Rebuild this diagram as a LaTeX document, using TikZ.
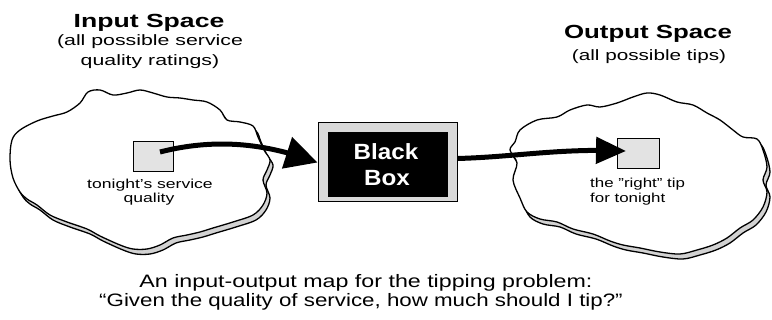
\documentclass[tikz,border=0pt]{standalone}
\usepackage{fontspec}
\setmainfont{Liberation Sans}
\usetikzlibrary{arrows.meta,bending}
\newcommand{\hstr}[2]{\scalebox{#1}[1]{#2}}
\begin{document}
\begin{tikzpicture}[x=1pt,y=-1pt,
  cloudline/.style={line width=1.3pt, line join=round},
  cloudband/.style={cloudline, fill=gray!35},
  cloudbody/.style={cloudline, fill=white},
  lbl/.style={inner sep=0pt, anchor=base},
  lblw/.style={inner sep=0pt, anchor=base west},
  titlefont/.style={font=\fontsize{19}{19}\selectfont\bfseries},
  subfont/.style={font=\fontsize{15}{15}\selectfont},
  smallfont/.style={font=\fontsize{13}{13}\selectfont},
  capfont/.style={font=\fontsize{18}{18}\selectfont},
  samplebox/.style={draw, line width=0.9pt, fill=gray!22, inner sep=0pt},
  flowarrow/.style={line width=5pt, -{Triangle[length=32pt,width=32pt]}},
  flowarrowb/.style={line width=5pt, -{Triangle[length=30pt,width=26pt]}},
]
\useasboundingbox[fill=white] (0,0) rectangle (772,320);

% ---- left cloud (input space)
\def\leftcloud{(12,140) (20,130) (37,121) (53,116) (67,112) (80,103) (88,92) (100,90) (113,95) (127,93) (140,90) (153,93) (167,97) (180,98) (193,100) (207,102) (220,110) (227,120) (240,122) (253,126) (258,137) (264,150) (270,160) (267,170) (263,180) (267,193) (263,205) (253,215) (233,222) (213,228) (200,232) (187,235) (173,238) (160,245) (147,249) (133,249) (120,245) (100,236) (87,229) (67,222) (50,215) (37,205) (27,199) (20,192) (13,178) (10,160)}
\draw[cloudband, shift={(3,5)}] plot[smooth cycle, tension=0.55] coordinates {\leftcloud};
\draw[cloudbody] plot[smooth cycle, tension=0.55] coordinates {\leftcloud};

% ---- right cloud (output space)
\def\rightcloud{(515,142) (520,130) (537,120) (557,117) (570,110) (587,105) (600,107) (617,103) (633,97) (647,93) (660,95) (677,102) (693,105) (707,113) (720,120) (733,130) (743,137) (757,139) (763,150) (767,167) (763,180) (767,192) (763,207) (753,220) (740,228) (727,238) (713,245) (697,250) (680,254) (660,252) (640,248) (623,245) (610,241) (593,234) (573,229) (557,222) (540,219) (527,212) (520,198) (513,180) (517,163) (510,150)}
\draw[cloudband, shift={(3,5)}] plot[smooth cycle, tension=0.55] coordinates {\rightcloud};
\draw[cloudbody] plot[smooth cycle, tension=0.55] coordinates {\rightcloud};

% ---- titles
\node[lbl, titlefont] (intitle) at (149,28) {\hstr{1.4}{Input Space}};
\node[lbl, subfont] (insub1) at (150,46) {\hstr{1.42}{(all possible service}};
\node[lbl, subfont] (insub2) at (150,66) {\hstr{1.42}{quality ratings)}};
\node[lbl, titlefont] (outtitle) at (648,39) {\hstr{1.36}{Output Space}};
\node[lbl, subfont] (outsub) at (649,61) {\hstr{1.38}{(all possible tips)}};

% ---- sample boxes
\node[samplebox, minimum width=40pt, minimum height=30pt] (lbox) at (153,156) {};
\node[samplebox, minimum width=42pt, minimum height=30pt] (rbox) at (638,153) {};
\node[lbl, smallfont] (lt1) at (150,189) {\hstr{1.35}{tonight's service}};
\node[lbl, smallfont] (lt2) at (149,203) {\hstr{1.35}{quality}};
\node[lblw, smallfont] (rt1) at (590,188) {\hstr{1.3}{the "right" tip}};
\node[lblw, smallfont] (rt2) at (590,203) {\hstr{1.3}{for tonight}};

% ---- black box
\node[draw, line width=1pt, fill=gray!30, minimum width=139pt, minimum height=79pt, inner sep=0pt] (bb) at (387.5,162.5) {};
\node[fill=black, minimum width=120pt, minimum height=65pt, inner sep=0pt] (bbin) at (388,164.5) {};
\node[lbl, text=white, font=\fontsize{22}{22}\selectfont\bfseries] (bbt1) at (386,160) {\hstr{1.1}{Black}};
\node[lbl, text=white, font=\fontsize{22}{22}\selectfont\bfseries] (bbt2) at (387,186) {\hstr{1.1}{Box}};

% ---- arrows
\draw[flowarrow] ([shift={(7,-4)}]lbox.center) .. controls (215,138) and (265,143) .. (bb.west);
\draw[flowarrowb] ([yshift=4]bb.east) .. controls (515,157) and (560,148) .. ([shift={(-12,-2)}]rbox.center);

% ---- caption
\node[lbl, capfont] (cap1) at (366,288) {\hstr{1.29}{An input-output map for the tipping problem:}};
\node[lbl, capfont] (cap2) at (361,307) {\hstr{1.24}{``Given the quality of service, how much should I tip?''}};
\end{tikzpicture}
\end{document}
